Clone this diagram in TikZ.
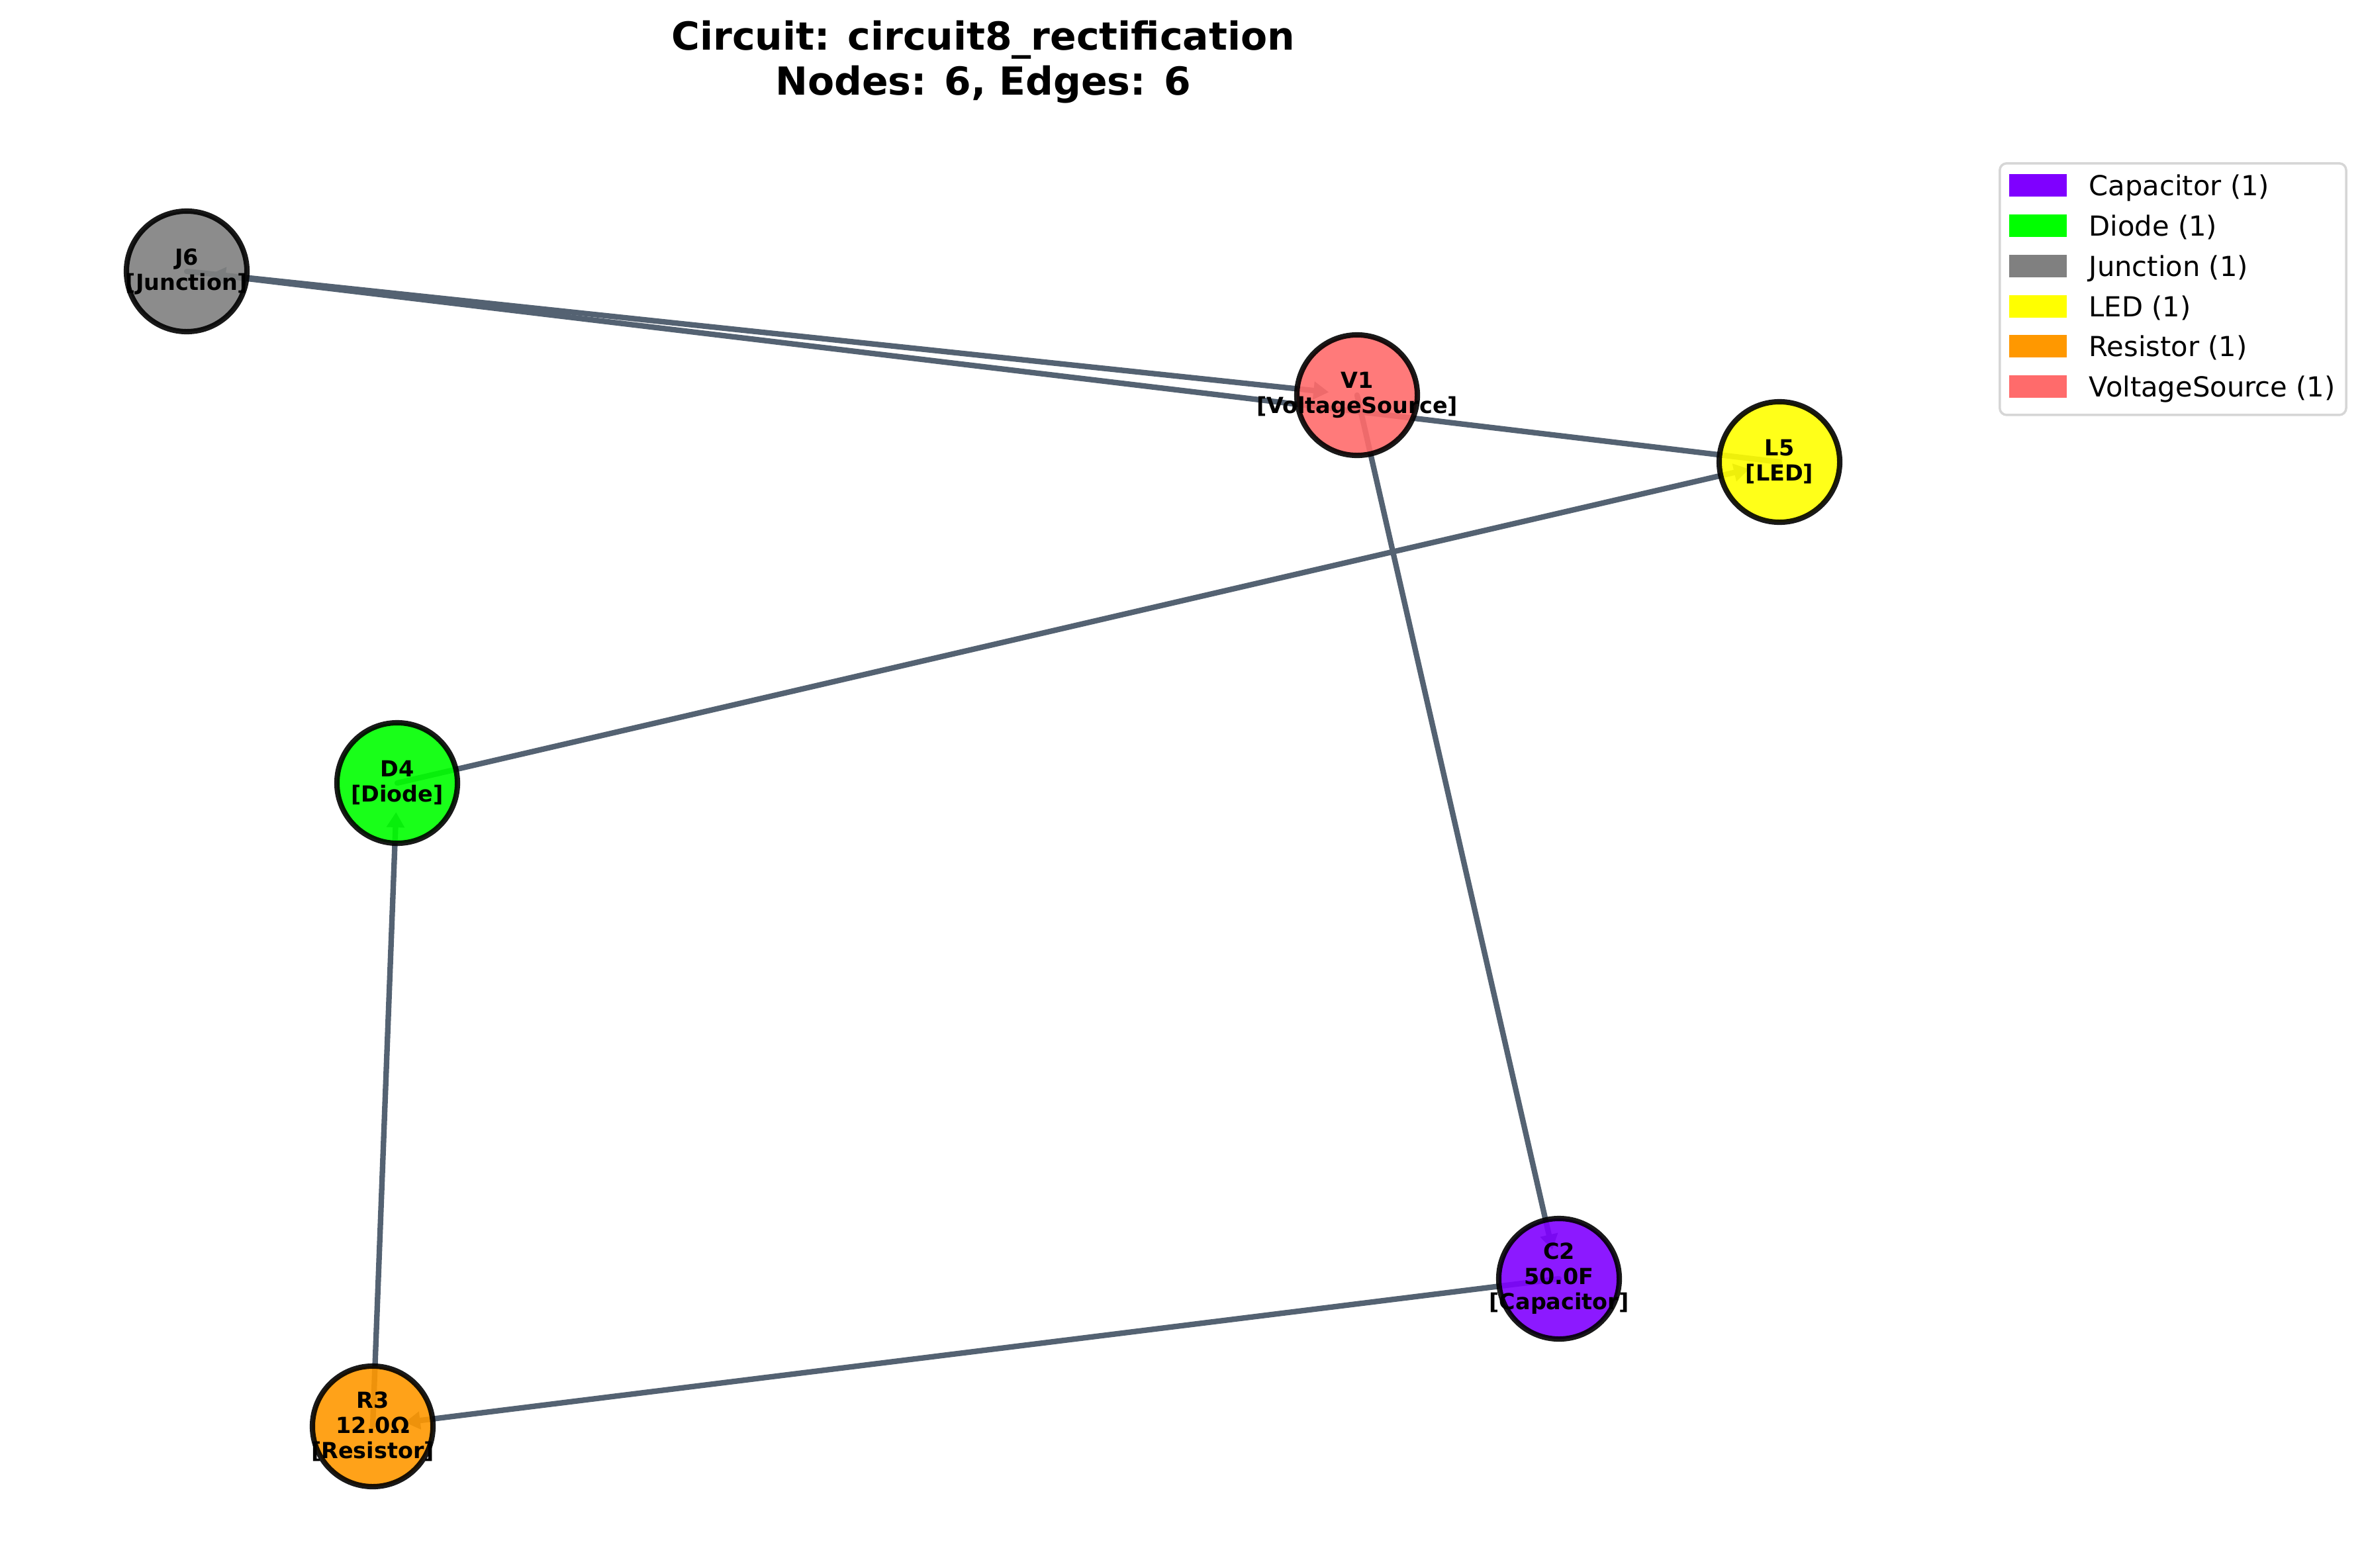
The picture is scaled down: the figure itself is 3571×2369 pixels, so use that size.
\documentclass[tikz,border=0pt]{standalone}
\usepackage{fontspec}
\setmainfont{DejaVu Sans}
\usetikzlibrary{arrows.meta,calc}

\definecolor{wirecol}{HTML}{546272}
\definecolor{capcol}{HTML}{7F00FF}
\definecolor{diocol}{HTML}{00FF00}
\definecolor{juncol}{HTML}{808080}
\definecolor{ledcol}{HTML}{FFFF00}
\definecolor{rescol}{HTML}{FF9800}
\definecolor{vsrccol}{HTML}{FF6B6B}
\definecolor{framecol}{HTML}{D6D6D6}

\pgfdeclarelayer{wires}
\pgfsetlayers{wires,main}

\begin{document}
\begin{tikzpicture}[x=0.01cm,y=-0.01cm,
  comp/.style={circle, draw=black, draw opacity=0.9, fill opacity=0.9,
    line width=2.3pt, minimum size=1.82cm, inner sep=0pt},
  lbl/.style={font=\bfseries\fontsize{9.5}{10.8}\selectfont, align=center,
    inner sep=0pt, text=black},
  wire/.style={draw=wirecol, line width=2.37pt, line cap=round,
    -{Triangle[length=0.23cm,width=0.26cm]}},
  ttl/.style={font=\bfseries\fontsize{16.6}{19.3}\selectfont, inner sep=0pt, anchor=base},
  legtxt/.style={font=\fontsize{11.85}{14}\selectfont, inner sep=0pt, anchor=base west},
  legpatch/.style={minimum width=0.87cm, minimum height=0.33cm, inner sep=0pt}
]
\useasboundingbox (0,0) rectangle (3571,2369);

% title
\node[ttl] (title1) at (1485,75) {Circuit: circuit8\_rectification};
\node[ttl] (title2) at (1485,143) {Nodes: 6, Edges: 6};

% components
\node[comp, fill=juncol] (J6) at (282,410) {};
\node[comp, fill=vsrccol] (V1) at (2050,597) {};
\node[comp, fill=ledcol] (L5) at (2688,698) {};
\node[comp, fill=diocol] (D4) at (600,1183) {};
\node[comp, fill=capcol] (C2) at (2355,1932) {};
\node[comp, fill=rescol] (R3) at (563,2155) {};

% component labels
\node[lbl] (J6t) at (J6) {J6\\{[}Junction{]}};
\node[lbl] (V1t) at (V1) {V1\\{[}VoltageSource{]}};
\node[lbl] (L5t) at (L5) {L5\\{[}LED{]}};
\node[lbl] (D4t) at (D4) {D4\\{[}Diode{]}};
\node[lbl] (C2t) at (C2) {C2\\50.0F\\{[}Capacitor{]}};
\node[lbl] (R3t) at (R3) {R3\\12.0Ω\\{[}Resistor{]}};

% connections, drawn beneath the components
\begin{pgfonlayer}{wires}
  \draw[wire] (J6.center) -- ($(V1.center)!0.43cm!(J6.center)$);
  \draw[wire] (L5.center) -- ($(J6.center)!0.36cm!(L5.center)$);
  \draw[wire] (D4.center) -- ($(L5.center)!0.47cm!(D4.center)$);
  \draw[wire] (R3.center) -- ($(D4.center)!0.44cm!(R3.center)$);
  \draw[wire] (C2.center) -- ($(R3.center)!0.49cm!(C2.center)$);
  \draw[wire] (V1.center) -- ($(C2.center)!0.45cm!(V1.center)$);
\end{pgfonlayer}

% legend
\node[draw=framecol, line width=1pt, rounded corners=3pt, fill=white,
  minimum width=5.23cm, minimum height=3.80cm, inner sep=0pt, anchor=north west]
  (legend) at (3019,245) {};
\node[legpatch, fill=capcol] (kcap) at (3078.5,280) {};
\node[legpatch, fill=diocol] (kdio) at (3078.5,341) {};
\node[legpatch, fill=juncol] (kjun) at (3078.5,402) {};
\node[legpatch, fill=ledcol] (kled) at (3078.5,463) {};
\node[legpatch, fill=rescol] (kres) at (3078.5,523) {};
\node[legpatch, fill=vsrccol] (kvs) at (3078.5,584) {};
\node[legtxt] (tcap) at (3155,295) {Capacitor (1)};
\node[legtxt] (tdio) at (3155,356) {Diode (1)};
\node[legtxt] (tjun) at (3155,417) {Junction (1)};
\node[legtxt] (tled) at (3155,478) {LED (1)};
\node[legtxt] (tres) at (3155,538) {Resistor (1)};
\node[legtxt] (tvs) at (3155,599) {VoltageSource (1)};
\end{tikzpicture}
\end{document}
